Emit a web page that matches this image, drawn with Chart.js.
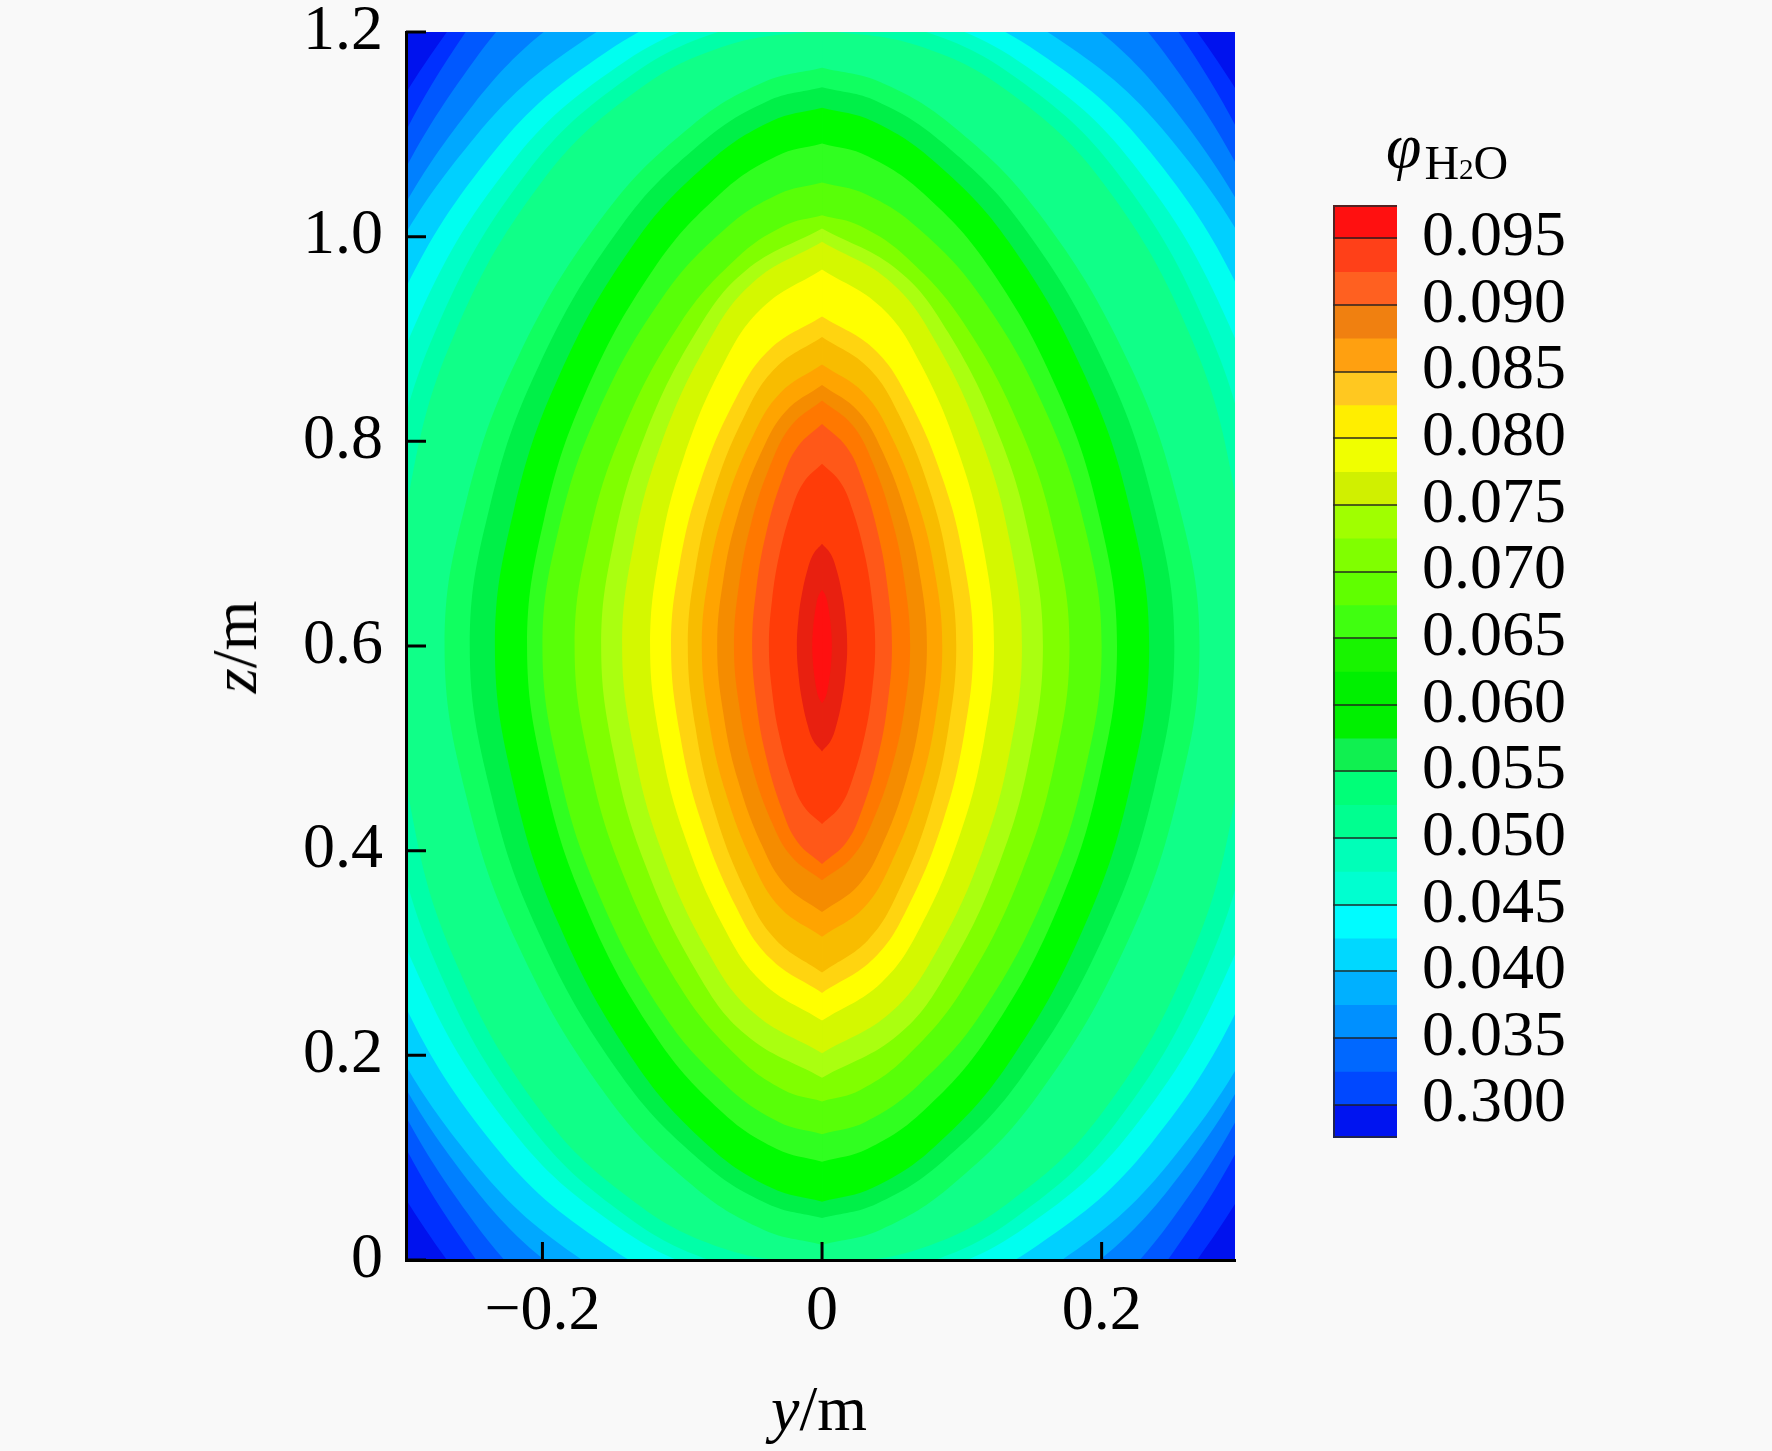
<!DOCTYPE html>
<html>
<head>
<meta charset="utf-8">
<script src="https://cdn.jsdelivr.net/npm/chart.js@4.4.1/dist/chart.umd.min.js"></script>
<style>
  html, body { margin: 0; padding: 0; background: #f9f9f9; }
  #wrap { position: relative; width: 1772px; height: 1451px; overflow: hidden;
          font-family: 'Liberation Serif', 'Times New Roman', serif; color: #000; }
  #main { position: absolute; left: 0; top: 0; }
  #bar { position: absolute; left: 1333px; top: 0; }
  .lbl { position: absolute; font-size: 64px; line-height: 1; white-space: nowrap; }
</style>
</head>
<body>
<div id="wrap">
  <canvas id="main" width="1772" height="1451"></canvas>
  <canvas id="bar" width="439" height="1451"></canvas>
  <div class="lbl" style="left:235px; top:647px; transform:translate(-50%,-50%) rotate(-90deg);"><i>z</i>/m</div>
  <div class="lbl" style="left:819px; top:1409px; transform:translate(-50%,-50%);"><i>y</i>/m</div>
  <div class="lbl" style="left:1386px; top:114px;"><i>φ</i><span style="font-size:48px; position:relative; top:12px; margin-left:3px;">H<span style="font-size:29px;">2</span>O</span></div>
</div>
<script>
// axes
const yTicks = [-0.2, 0, 0.2];
const zTicks = [0, 0.2, 0.4, 0.6, 0.8, 1.0, 1.2];
const yMin = -0.2976, yMax = 0.2954;
const zMin = 0, zMax = 1.2;

// value on each contour line, innermost first
const contourLevels = [0.0955, 0.095, 0.0925, 0.090, 0.0885, 0.0875, 0.085, 0.0835, 0.0815,
  0.0785, 0.0755, 0.0735, 0.071, 0.0675, 0.065, 0.0585, 0.056, 0.0545, 0.052, 0.049,
  0.0465, 0.043, 0.040, 0.0375, 0.035, 0.0325, 0.030];

// right half of each contour, [y, z] from top tip to bottom tip
const line0955 = [[0,.655],[.0024,.6495],[.004,.6413],[.0056,.6275],[.0066,.6138],[.007,.6],[.0066,.586],[.0056,.572],[.004,.558],[.0024,.5496],[0,.544]];
const line0950 = [[0,.70],[.0062,.69],[.0103,.675],[.0145,.65],[.017,.625],[.018,.6],[.017,.5743],[.0145,.5485],[.0103,.5228],[.0062,.5073],[0,.497]];
const line0925 = [[0,.778],[.0131,.760],[.0217,.7335],[.0306,.689],[.0358,.6445],[.038,.6],[.0358,.5565],[.0306,.513],[.0217,.4695],[.0131,.4434],[0,.426]];
const line0900 = [[0,.817],[.0173,.795],[.0286,.763],[.0403,.7085],[.0472,.654],[.05,.6],[.0472,.547],[.0403,.4935],[.0286,.440],[.0173,.408],[0,.387]];
const line0885 = [[0,.84],[.0217,.816],[.036,.78],[.0507,.72],[.0594,.66],[.063,.6],[.0594,.543],[.0507,.4855],[.036,.428],[.0217,.394],[0,.371]];
const line0875 = [[0,.855],[.0259,.8295],[.0429,.791],[.0604,.7275],[.0707,.664],[.075,.6],[.0707,.535],[.0604,.47],[.0429,.405],[.0259,.366],[0,.34]];
const line0850 = [[0,.875],[.0297,.8475],[.0492,.806],[.0692,.7375],[.0811,.669],[.086,.6],[.0811,.529],[.0692,.458],[.0492,.387],[.0297,.344],[0,.316]];
const line0835 = [[0,.902],[.0331,.872],[.0549,.8265],[.0773,.751],[.0905,.6755],[.096,.6],[.0905,.520],[.0773,.4405],[.0549,.361],[.0331,.313],[0,.281]];
const line0815 = [[0,.922],[.0373,.890],[.0618,.8415],[.0869,.761],[.1018,.6805],[.108,.6],[.1018,.515],[.0869,.4305],[.0618,.346],[.0373,.295],[0,.261]];
const line0785 = [[0,.968],[.0424,.931],[.0704,.876],[.099,.784],[.116,.692],[.123,.6],[.116,.5085],[.099,.417],[.0704,.3255],[.0424,.271],[0,.234]];
const line0755 = [[0,.995],[.0493,.9555],[.0818,.896],[.1151,.7975],[.1348,.699],[.143,.6],[.1348,.5005],[.1151,.401],[.0818,.3015],[.0493,.242],[0,.202]];
const line0735 = [[0,1.008],[.0545,.967],[.0904,.906],[.1272,.804],[.149,.702],[.158,.6],[.149,.4945],[.1272,.389],[.0904,.2835],[.0545,.220],[0,.178]];
const line0710 = [[0,1.021],[.0274,1.0105],[.0611,.979],[.1012,.916],[.1425,.8105],[.1669,.705],[.177,.6],[.1669,.489],[.1425,.3775],[.1012,.266],[.0611,.1995],[.0274,.1661],[0,.155]];
const line0675 = [[0,1.053],[.031,1.0417],[.069,1.008],[.1144,.940],[.161,.8265],[.1886,.713],[.2,.6],[.1886,.481],[.161,.3615],[.1144,.242],[.069,.171],[.031,.1349],[0,.123]];
const line0650 = [[0,1.091],[.0327,1.0787],[.0728,1.042],[.1207,.968],[.1699,.8455],[.199,.723],[.211,.6],[.199,.474],[.1699,.348],[.1207,.222],[.0728,.146],[.0327,.1086],[0,.096]];
const line0585 = [[0,1.126],[.0363,1.1129],[.0807,1.073],[.1338,.9945],[.1884,.863],[.2207,.7315],[.234,.6],[.2207,.464],[.1884,.3285],[.1338,.193],[.0807,.111],[.0363,.0706],[0,.057]];
const line0560 = [[0,1.146],[.0391,1.1324],[.0869,1.091],[.1441,1.0095],[.2029,.873],[.2376,.7365],[.252,.6],[.2376,.460],[.2029,.3205],[.1441,.181],[.0869,.097],[.0391,.055],[0,.041]];
const line0545 = [[0,1.165],[.0419,1.1509],[.0932,1.1085],[.1544,1.024],[.2174,.8825],[.2546,.741],[.27,.6],[.2546,.454],[.2174,.3075],[.1544,.161],[.0932,.0735],[.0419,.0296],[0,.015]];
const line0520 = [[0,1.202],[.0677,1.187],[.133,1.142],[.2016,1.0515],[.2641,.901],[.2952,.7505],[.305,.6],[.2952,.449],[.2641,.2975],[.2016,.146],[.133,.0555],[.0677,.010],[0,-.005]];
const line0490 = [[0,1.217],[.0708,1.2016],[.1391,1.155],[.2109,1.063],[.2763,.9085],[.3088,.754],[.319,.6],[.3088,.445],[.2763,.29],[.2109,.135],[.1391,.042],[.0708,-.0045],[0,-.02]];
const line0465 = [[0,1.229],[.0746,1.213],[.1465,1.166],[.2221,1.072],[.291,.9145],[.3252,.757],[.336,.6],[.3252,.4425],[.291,.285],[.2221,.1275],[.1465,.033],[.0746,-.014],[0,-.03]];
const line0430 = [[0,1.244],[.0788,1.228],[.1548,1.18],[.2347,1.083],[.3074,.922],[.3436,.761],[.355,.6],[.3436,.4375],[.3074,.275],[.2347,.1125],[.1548,.015],[.0788,-.034],[0,-.05]];
const line0400 = [[0,1.264],[.0833,1.247],[.1635,1.198],[.2479,1.098],[.3248,.932],[.363,.766],[.375,.6],[.363,.431],[.3248,.2625],[.2479,.094],[.1635,-.0075],[.0833,-.058],[0,-.075]];
const line0375 = [[0,1.306],[.0837,1.288],[.1644,1.235],[.2492,1.1295],[.3265,.953],[.3649,.7765],[.377,.6],[.3649,.424],[.3265,.2475],[.2492,.071],[.1644,-.0345],[.0837,-.087],[0,-.105]];
const line0350 = [[0,1.362],[.0837,1.343],[.1644,1.286],[.2492,1.1715],[.3265,.981],[.3649,.7905],[.377,.6],[.3649,.4125],[.3265,.225],[.2492,.0375],[.1644,-.075],[.0837,-.131],[0,-.15]];
const line0325 = [[0,1.41],[.0844,1.39],[.1657,1.329],[.2512,1.2075],[.3291,1.005],[.3678,.8025],[.38,.6],[.3678,.4025],[.3291,.205],[.2512,.0075],[.1657,-.111],[.0844,-.170],[0,-.19]];
const line0300 = [[0,1.41],[.0888,1.39],[.1744,1.329],[.2644,1.2075],[.3464,1.005],[.3872,.8025],[.40,.6],[.3872,.3975],[.3464,.195],[.2644,-.0075],[.1744,-.129],[.0888,-.19],[0,-.21]];

const contourLines = [line0955, line0950, line0925, line0900, line0885, line0875, line0850,
  line0835, line0815, line0785, line0755, line0735, line0710, line0675, line0650, line0585,
  line0560, line0545, line0520, line0490, line0465, line0430, line0400, line0375, line0350,
  line0325, line0300];

// fill colour just inside each contour, and outside the last one
const bandColors = ['#ff1010', '#e82010', '#ff3c08', '#ff5818', '#ff7800', '#f58c00', '#ffa400',
  '#f8bc00', '#ffd410', '#ffff00', '#d4f800', '#aaff10', '#80ff00', '#58ff08', '#30ff20',
  '#00fc00', '#00f048', '#10ff60', '#10ff88', '#00ffa8', '#00ffc8', '#00fff0', '#00d0ff',
  '#00a8ff', '#0080ff', '#0058ff', '#0030ff'];
const baseColor = '#0012ee';

// colour bar
const barEdges = [0.0275, 0.030, 0.0325, 0.035, 0.0375, 0.040, 0.0425, 0.045, 0.0475, 0.050,
  0.0525, 0.055, 0.0575, 0.060, 0.0625, 0.065, 0.0675, 0.070, 0.0725, 0.075, 0.0775, 0.080,
  0.0825, 0.085, 0.0875, 0.090, 0.0925, 0.095];
const barTop = 0.0975;
const barColors = ['#0014f0', '#0048ff', '#0068ff', '#0090ff', '#00b0ff', '#00d8ff', '#00fcff',
  '#00ffd0', '#00ffb8', '#00ff90', '#00ff78', '#10f050', '#00f000', '#00f000', '#18f400',
  '#40ff10', '#60ff00', '#80ff00', '#a0ff00', '#d0f000', '#f0ff00', '#ffee00', '#ffc820',
  '#ffa010', '#f08010', '#ff6020', '#ff4018', '#ff1010'];
const barTicks = [0.030, 0.035, 0.040, 0.045, 0.050, 0.055, 0.060, 0.065, 0.070, 0.075,
  0.080, 0.085, 0.090, 0.095];
const barTickLabels = ['0.300', '0.035', '0.040', '0.045', '0.050', '0.055', '0.060', '0.065',
  '0.070', '0.075', '0.080', '0.085', '0.090', '0.095'];

const serif = "'Liberation Serif', 'Times New Roman', serif";
const tickFont = {family: serif, size: 64, lineHeight: 1};

const fieldBackground = {
  id: 'fieldBackground',
  beforeDatasetsDraw(chart) {
    const {ctx, chartArea: a} = chart;
    ctx.save();
    ctx.fillStyle = baseColor;
    ctx.fillRect(a.left, a.top, a.right - a.left, a.bottom - a.top);
    ctx.restore();
  }
};

const innerTicks = {
  id: 'innerTicks',
  afterDraw(chart) {
    const {ctx, chartArea: a, scales} = chart;
    ctx.save();
    ctx.strokeStyle = '#000';
    ctx.lineWidth = 3;
    ctx.beginPath();
    yTicks.forEach(v => {
      const px = scales.x.getPixelForValue(v);
      ctx.moveTo(px, a.bottom);
      ctx.lineTo(px, a.bottom - 18);
    });
    zTicks.forEach(v => {
      const py = scales.y.getPixelForValue(v);
      ctx.moveTo(a.left, py);
      ctx.lineTo(a.left + 20, py);
    });
    ctx.stroke();
    ctx.restore();
  }
};

const datasets = [];
contourLines.forEach((half, i) => {
  [1, -1].forEach(side => {
    datasets.push({
      data: half.map(p => ({x: side * p[0], y: p[1]})),
      showLine: true,
      fill: 'shape',
      backgroundColor: bandColors[i],
      borderWidth: 0,
      pointRadius: 0,
      tension: 0.4
    });
  });
});

new Chart(document.getElementById('main'), {
  type: 'scatter',
  data: {datasets: datasets},
  options: {
    responsive: false,
    animation: false,
    events: [],
    layout: {padding: {left: 0, top: 32, right: 537, bottom: 0}},
    elements: {line: {capBezierPoints: false}},
    plugins: {legend: {display: false}, tooltip: {enabled: false}},
    scales: {
      x: {
        type: 'linear', min: yMin, max: yMax,
        afterFit: s => { s.height = 191; s.paddingLeft = 0; s.paddingRight = 0; },
        afterBuildTicks: s => { s.ticks = yTicks.map(v => ({value: v})); },
        grid: {display: false, drawTicks: false},
        border: {display: true, color: '#000', width: 3, z: 1},
        ticks: {
          padding: 20, color: '#000', font: tickFont, autoSkip: false, maxRotation: 0,
          callback: v => v === 0 ? '0' : (v < 0 ? '\u2212' : '') + Math.abs(v).toFixed(1)
        }
      },
      y: {
        type: 'linear', min: zMin, max: zMax,
        afterFit: s => { s.width = 406; s.paddingTop = 0; s.paddingBottom = 0; },
        afterBuildTicks: s => { s.ticks = zTicks.map(v => ({value: v})); },
        grid: {display: false, drawTicks: false},
        border: {display: true, color: '#000', width: 3, z: 1},
        ticks: {
          padding: 23, color: '#000', font: tickFont, autoSkip: false,
          callback: v => v === 0 ? '0' : v.toFixed(1)
        }
      }
    }
  },
  plugins: [fieldBackground, innerTicks]
});

const barFrame = {
  id: 'barFrame',
  afterDraw(chart) {
    const {ctx, chartArea: a} = chart;
    ctx.save();
    ctx.strokeStyle = 'rgba(40,40,40,0.8)';
    ctx.lineWidth = 2;
    ctx.beginPath();
    ctx.moveTo(a.right, a.top + 1);
    ctx.lineTo(a.left + 1, a.top + 1);
    ctx.lineTo(a.left + 1, a.bottom - 1);
    ctx.lineTo(a.right, a.bottom - 1);
    ctx.stroke();
    ctx.restore();
  }
};

new Chart(document.getElementById('bar'), {
  type: 'bar',
  data: {
    labels: [''],
    datasets: barEdges.map((lo, i) => ({
      data: [[lo, barTop]],
      backgroundColor: barColors[i],
      borderWidth: 0,
      barPercentage: 1,
      categoryPercentage: 1,
      grouped: false
    })).reverse()
  },
  options: {
    responsive: false,
    animation: false,
    events: [],
    layout: {padding: {left: 0, top: 205, right: 0, bottom: 313}},
    plugins: {legend: {display: false}, tooltip: {enabled: false}},
    scales: {
      x: {display: false},
      y: {
        position: 'right', min: barEdges[0], max: barTop,
        afterFit: s => { s.width = 375; s.paddingTop = 0; s.paddingBottom = 0; },
        afterBuildTicks: s => { s.ticks = barTicks.map(v => ({value: v})); },
        grid: {display: true, drawOnChartArea: true, drawTicks: false,
               color: 'rgba(30,30,30,0.7)', lineWidth: 2, z: 1},
        border: {display: false},
        ticks: {padding: 25, color: '#000', font: tickFont, autoSkip: false,
                callback: (v, i) => barTickLabels[i]}
      }
    }
  },
  plugins: [barFrame]
});
</script>
</body>
</html>
